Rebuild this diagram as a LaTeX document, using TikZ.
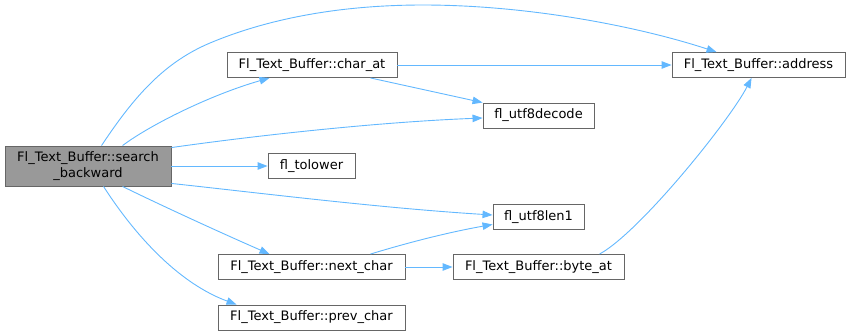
\documentclass[tikz,border=0pt]{standalone}
\usepackage{fontspec}
\setmainfont{DejaVu Sans}
\usetikzlibrary{arrows.meta,calc}
\definecolor{edgeblue}{HTML}{63B8FF}
\definecolor{boxline}{HTML}{666666}
\definecolor{mainfill}{HTML}{999999}
\begin{document}
\begin{tikzpicture}[x=1pt,y=-1pt,
  fnbox/.style={draw=boxline,fill=white,line width=0.9pt,inner sep=0pt,
    minimum height=25pt,font=\fontsize{13}{15.5}\selectfont,anchor=center},
  mainbox/.style={fnbox,fill=mainfill,minimum height=40pt,align=center},
  call/.style={draw=edgeblue,line width=0.9pt,
    -{Triangle[length=10pt,width=7.5pt]}}]
\useasboundingbox (0,0) rectangle (851,335);

% functions
\node[mainbox,minimum width=166pt] (sb) at (88,166)
  {Fl\_Text\_Buffer::search\\\_backward};
\node[fnbox,minimum width=170pt] (charat)   at (312,65)    {Fl\_Text\_Buffer::char\_at};
\node[fnbox,minimum width=173pt] (address)  at (758.5,65)  {Fl\_Text\_Buffer::address};
\node[fnbox,minimum width=111pt] (decode)   at (538.5,115.5) {fl\_utf8decode};
\node[fnbox,minimum width=87pt]  (tolower)  at (311.5,166) {fl\_tolower};
\node[fnbox,minimum width=91pt]  (len1)     at (538.5,217) {fl\_utf8len1};
\node[fnbox,minimum width=187pt] (nextchar) at (311.5,267) {Fl\_Text\_Buffer::next\_char};
\node[fnbox,minimum width=171pt] (byteat)   at (538.5,267) {Fl\_Text\_Buffer::byte\_at};
\node[fnbox,minimum width=187pt] (prevchar) at (311.5,317.5) {Fl\_Text\_Buffer::prev\_char};

% calls from search_backward
\draw[call] ($(sb.north west)+(97,0)$)
  .. controls (135,95) and (165,62) .. (210,43)
  .. controls (260,22) and (330,5) .. (423,5)
  .. controls (530,5) and (640,27) .. ($(address.north west)+(45,0)$);
\draw[call] ($(sb.north west)+(118,0)$)
  .. controls (150,125) and (210,95) .. ($(charat.south west)+(43,0)$);
\draw[call] ($(sb.north east)+(0,2)$)
  .. controls (260,135) and (380,122) .. ($(decode.west)+(0,2.5)$);
\draw[call] (sb.east) -- (tolower.west);
\draw[call] ($(sb.south east)+(0,-3)$)
  .. controls (260,193) and (380,208) .. ($(len1.west)+(0,-2)$);
\draw[call] ($(sb.south west)+(118,0)$)
  .. controls (150,200) and (210,228) .. ($(nextchar.north west)+(52,0)$);
\draw[call] ($(sb.south west)+(99,0)$)
  .. controls (125,220) and (170,280) .. ($(prevchar.north west)+(19,0)$);

% calls from char_at
\draw[call] (charat.east) -- (address.west);
\draw[call] ($(charat.south east)+(-27,0)$) -- (decode.north west);

% calls from next_char
\draw[call] ($(nextchar.north east)+(-35,0)$)
  .. controls (410,242) and (450,232) .. ($(len1.south west)+(0,-5.5)$);
\draw[call] (nextchar.east) -- (byteat.west);

% call from byte_at
\draw[call] ($(byteat.north west)+(147,0)$)
  .. controls (640,232) and (730,120) .. ($(address.south west)+(80,0)$);
\end{tikzpicture}
\end{document}
